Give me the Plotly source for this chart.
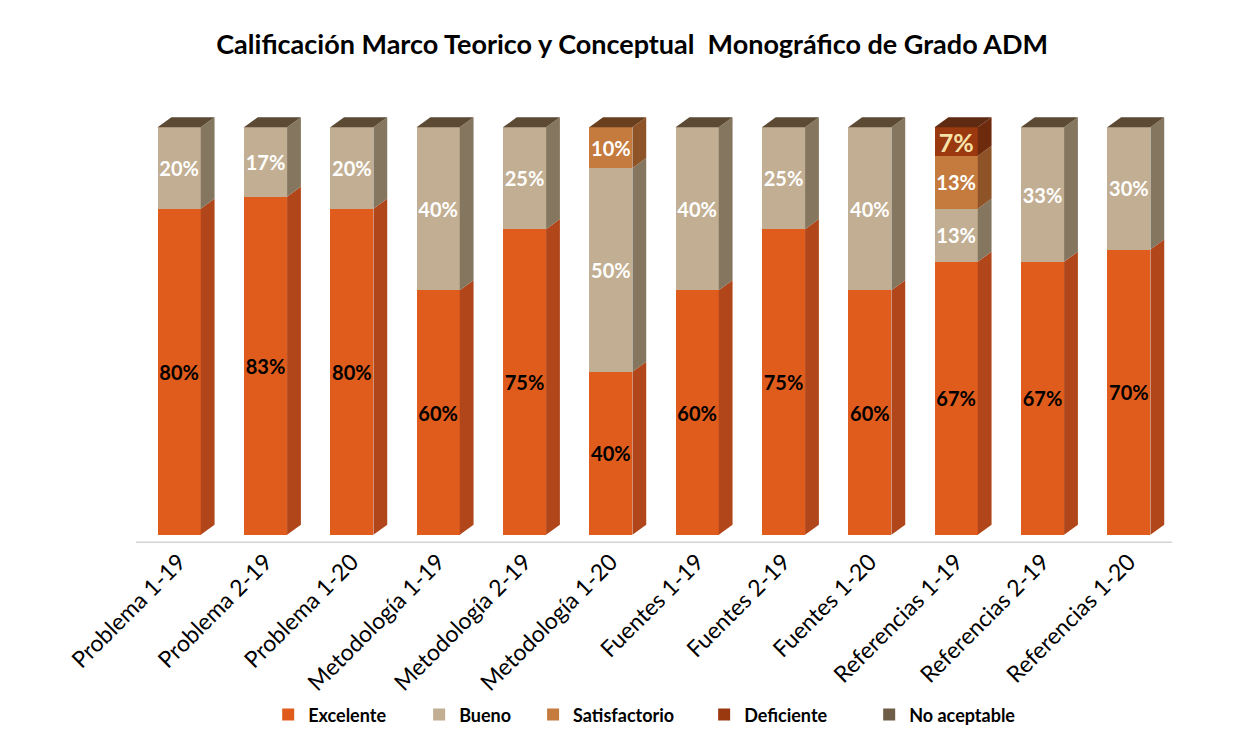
import plotly.graph_objects as go

categories = ["Problema 1-19", "Problema 2-19", "Problema 1-20", "Metodología 1-19",
              "Metodología 2-19", "Metodología 1-20", "Fuentes 1-19", "Fuentes 2-19",
              "Fuentes 1-20", "Referencias 1-19", "Referencias 2-19", "Referencias 1-20"]
excelente     = [80, 83, 80, 60, 75, 40, 60, 75, 60, 67, 67, 70]
bueno         = [20, 17, 20, 40, 25, 50, 40, 25, 40, 13, 33, 30]
satisfactorio = [0, 0, 0, 0, 0, 10, 0, 0, 0, 13, 0, 0]
deficiente    = [0, 0, 0, 0, 0, 0, 0, 0, 0, 7, 0, 0]
no_aceptable  = [0, 0, 0, 0, 0, 0, 0, 0, 0, 0, 0, 0]

series = [
    ("Excelente", excelente, "#e05c1c", "#b0461a", "#8a3a16", "black"),
    ("Bueno", bueno, "#c2ae92", "#857660", "#5c4a35", "white"),
    ("Satisfactorio", satisfactorio, "#c57a3e", "#8e5428", "#6a3f1e", "white"),
    ("Deficiente", deficiente, "#9a3810", "#6e2a0c", "#5e2a12", "#f7e3a8"),
    ("No aceptable", no_aceptable, "#6e5e48", "#4e4232", "#3e3426", "white"),
]
legend_x = [0.1276, 0.2733, 0.3833, 0.5484, 0.7077]

FONT = "Lato"
W = 0.5      # bar width (category units)
DX = 0.16    # depth offset, x
DY = 2.5     # depth offset, y

x = list(range(len(categories)))
fig = go.Figure()

base = [0] * len(categories)
bases = []
for k, (name, vals, front, side, top, tcol) in enumerate(series):
    bases.append(list(base))
    texts = ["" if v == 0 else f"<b>{v}%</b>" for v in vals]
    size = [25 if name == "Deficiente" else 20] * len(vals)
    fig.add_trace(go.Bar(
        x=x, y=vals, name=name, width=W, marker=dict(color=front, line=dict(width=0)),
        text=texts, textposition="inside", insidetextanchor="middle", textangle=0,
        textfont=dict(color=tcol, size=size, family=FONT), constraintext="none",
        hoverinfo="skip", legend="legend" if k == 0 else f"legend{k + 1}",
    ))
    base = [b + v for b, v in zip(base, vals)]

# side faces
for (name, vals, front, side, top, tcol), b0 in zip(series, bases):
    xs, ys = [], []
    for i, (v, b) in enumerate(zip(vals, b0)):
        if v == 0:
            continue
        xr = i + W / 2
        xs += [xr, xr + DX, xr + DX, xr, xr, None]
        ys += [b, b + DY, b + v + DY, b + v, b, None]
    if xs:
        fig.add_trace(go.Scatter(x=xs, y=ys, mode="lines", fill="toself", fillcolor=side,
                                 line=dict(width=0, color=side), showlegend=False, hoverinfo="skip"))

# top faces
totals = base
for k, ((name, vals, front, side, top, tcol), b0) in enumerate(zip(series, bases)):
    xs, ys = [], []
    for i, (v, b) in enumerate(zip(vals, b0)):
        if v == 0:
            continue
        if any(s[1][i] > 0 for s in series[k + 1:]):
            continue
        t = totals[i]
        xl, xr = i - W / 2, i + W / 2
        xs += [xl, xr, xr + DX, xl + DX, xl, None]
        ys += [t, t, t + DY, t + DY, t, None]
    if xs:
        fig.add_trace(go.Scatter(x=xs, y=ys, mode="lines", fill="toself", fillcolor=top,
                                 line=dict(width=0, color=top), showlegend=False, hoverinfo="skip"))

leg_common = dict(orientation="h", xanchor="left", y=-0.394, yanchor="middle",
                  font=dict(size=18, family=FONT, color="black", weight="bold"),
                  itemclick=False, itemwidth=30, bgcolor="rgba(0,0,0,0)")
legends = {}
for k, lx in enumerate(legend_x):
    key = "legend" if k == 0 else f"legend{k + 1}"
    legends[key] = dict(leg_common, x=lx)

fig.update_layout(
    barmode="stack",
    width=1236, height=724,
    margin=dict(l=128, r=72, t=99, b=189, autoexpand=False),
    paper_bgcolor="white", plot_bgcolor="white",
    font=dict(family=FONT, color="black"),
    title=dict(text="<b>Calificación Marco Teorico y Conceptual  Monográfico de Grado ADM</b>",
               x=0.505, xanchor="center", y=0.949, yanchor="middle",
               font=dict(size=27, family=FONT, color="black")),
    xaxis=dict(range=[-0.5, 11.5], tickmode="array", tickvals=x, ticktext=categories,
               tickangle=-45, tickfont=dict(size=23, family=FONT, color="black"),
               showgrid=False, zeroline=False, showline=False, ticks="", automargin=False),
    yaxis=dict(range=[-2, 105], visible=False, showgrid=False, zeroline=False, automargin=False),
    showlegend=True,
    **legends,
)

# floor line
fig.add_shape(type="line", xref="x", yref="y", x0=-0.6, x1=11.5, y0=-2, y1=-2,
              line=dict(color="#d4d4d4", width=3), layer="below")

fig.write_html("out.html")
